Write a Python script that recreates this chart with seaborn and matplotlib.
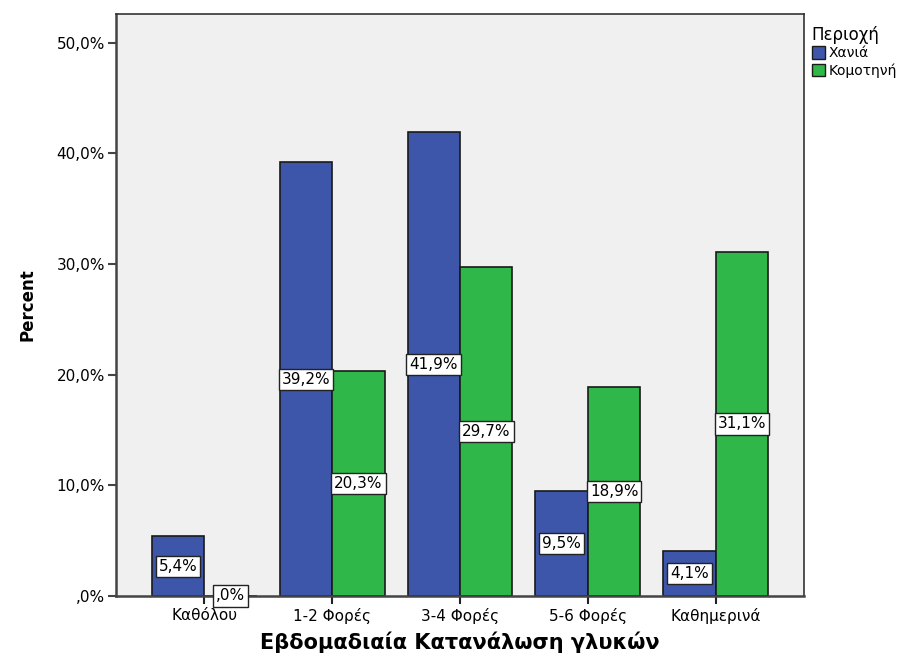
import matplotlib
matplotlib.use("Agg")
import matplotlib.pyplot as plt
import seaborn as sns
import pandas as pd
from matplotlib.patches import Patch

categories = ["Καθόλου", "1-2 Φορές", "3-4 Φορές", "5-6 Φορές", "Καθημερινά"]
chania = [5.4, 39.2, 41.9, 9.5, 4.1]
komotini = [0.0, 20.3, 29.7, 18.9, 31.1]
regions = ["Χανιά", "Κομοτηνή"]
ytick_values = [0, 10, 20, 30, 40, 50]
ytick_labels = [",0%", "10,0%", "20,0%", "30,0%", "40,0%", "50,0%"]

colors = {"Χανιά": "#3d56aa", "Κομοτηνή": "#2fb74a"}

df = pd.DataFrame({
    "cat": categories * 2,
    "region": [regions[0]] * len(categories) + [regions[1]] * len(categories),
    "pct": chania + komotini,
})

sns.set_style("white")
plt.rcParams["font.family"] = ["DejaVu Sans"]
plt.rcParams["text.color"] = "black"
plt.rcParams["axes.labelcolor"] = "black"
plt.rcParams["xtick.color"] = "black"
plt.rcParams["ytick.color"] = "black"

fig = plt.figure(figsize=(9.11, 6.55), dpi=100)
ax = fig.add_axes([116 / 911, 1 - 596 / 655, (804 - 116) / 911, (596 - 14) / 655])
ax.set_facecolor("#f0f0f0")

sns.barplot(data=df, x="cat", y="pct", hue="region", order=categories,
            hue_order=regions, palette=colors, saturation=1, width=0.82, gap=0,
            edgecolor="#1a1a1a", linewidth=1.2, legend=False, ax=ax, zorder=2)

ax.set_xlim(-0.69, len(categories) - 1 + 0.69)
ax.set_ylim(0, 52.6)
ax.set_yticks(ytick_values)
ax.set_yticklabels(ytick_labels, fontsize=11)
ax.tick_params(axis="y", left=True, direction="out", length=6, width=1.5,
               color="#444444", pad=2, labelcolor="black")
ax.tick_params(axis="x", bottom=True, direction="out", length=6, width=1.5,
               color="#222222", pad=3, labelsize=11, labelcolor="black")

for side in ["left", "bottom"]:
    ax.spines[side].set_color("#444444")
    ax.spines[side].set_linewidth(1.8)
for side in ["top", "right"]:
    ax.spines[side].set_color("#333333")
    ax.spines[side].set_linewidth(1.2)

# value labels centred on each bar's half-height
for container in ax.containers:
    for bar in container:
        h = bar.get_height()
        x = bar.get_x() + bar.get_width() / 2
        txt = (f"{h:.1f}".replace(".", ",") + "%")
        if txt.startswith("0,"):
            txt = txt[1:]
        ax.text(x, h / 2, txt, ha="center", va="center", fontsize=11, zorder=5,
                color="black",
                bbox=dict(boxstyle="square,pad=0.2", facecolor="white",
                          edgecolor="#222222", linewidth=1.0), clip_on=False)

ax.set_xlabel("Εβδομαδιαία Κατανάλωση γλυκών", fontsize=15, fontweight="bold", labelpad=5)
ax.set_ylabel("Percent", fontsize=12, fontweight="bold", labelpad=14)

handles = [Patch(facecolor=colors[r], edgecolor="#1a1a1a", linewidth=1.0) for r in regions]
leg = fig.legend(handles, regions, title="Περιοχή", loc="upper left",
                 bbox_to_anchor=(806 / 911, 1 - 20 / 655), frameon=False,
                 fontsize=10, title_fontsize=12, handlelength=1.0, handleheight=1.0,
                 handletextpad=0.2, labelspacing=0.2, borderaxespad=0)
leg._legend_box.align = "left"

fig.savefig("out.png", dpi=100)
